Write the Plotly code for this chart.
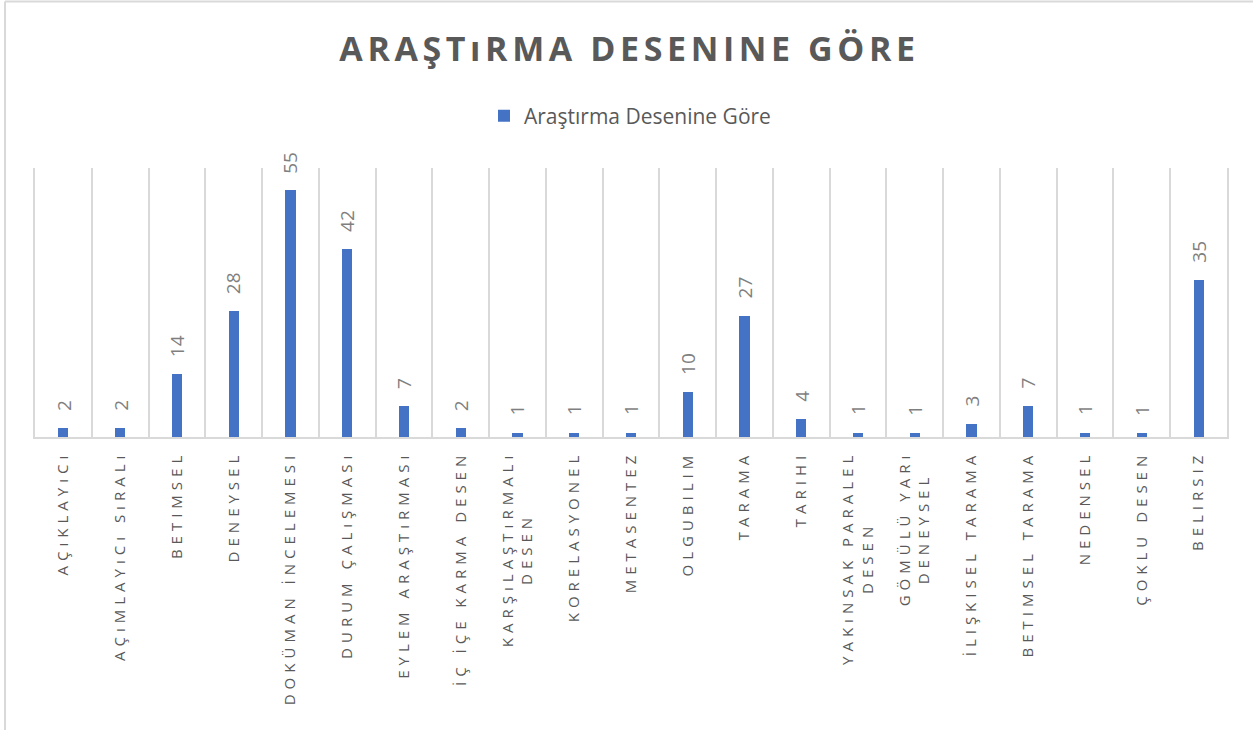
import plotly.graph_objects as go

# Araştırma desenine göre çalışma sayıları
categories = [
    "AÇıKLAYıCı",
    "AÇıMLAYıCı SıRALı",
    "BETIMSEL",
    "DENEYSEL",
    "DOKÜMAN İNCELEMESI",
    "DURUM ÇALıŞMASı",
    "EYLEM ARAŞTıRMASı",
    "İÇ İÇE KARMA DESEN",
    "KARŞıLAŞTıRMALı<br>DESEN",
    "KORELASYONEL",
    "METASENTEZ",
    "OLGUBILIM",
    "TARAMA",
    "TARIHI",
    "YAKıNSAK PARALEL<br>DESEN",
    "GÖMÜLÜ YARı<br>DENEYSEL",
    "İLIŞKISEL TARAMA",
    "BETIMSEL TARAMA",
    "NEDENSEL",
    "ÇOKLU DESEN",
    "BELIRSIZ",
]
counts = [2, 2, 14, 28, 55, 42, 7, 2, 1, 1, 1, 10, 27, 4, 1, 1, 3, 7, 1, 1, 35]

series_name = "Araştırma Desenine Göre"
chart_title = "ARAŞTıRMA DESENINE GÖRE"

BAR = "#4472C4"
GRID = "#D9D9D9"
TEXT = "#595959"
LABEL = "#7F7F7F"
FONT = "Open Sans"

W, H = 1253, 730
ML, MR, MT, MB = 35, 26, 168, 293
PW, PH = W - ML - MR, H - MT - MB

fig = go.Figure(
    go.Bar(
        x=categories,
        y=counts,
        name=series_name,
        marker=dict(color=BAR, line=dict(width=0)),
        width=0.18,
        showlegend=True,
    )
)

# rotated value labels above each bar
for c, v in zip(categories, counts):
    fig.add_annotation(
        x=c, y=v, xref="x", yref="y",
        text=str(v), textangle=-90,
        showarrow=False, yanchor="bottom", xanchor="center",
        yshift=15,
        font=dict(family=FONT, size=19, color=LABEL),
    )

# chart-area frame (left and top edges)
def px_x(p):
    return (p - ML) / PW

def px_y(p):
    return (H - MB - p) / PH

fig.add_shape(type="line", xref="paper", yref="paper",
              x0=px_x(5), x1=px_x(5), y0=px_y(1.5), y1=px_y(740),
              line=dict(color=GRID, width=2))
fig.add_shape(type="line", xref="paper", yref="paper",
              x0=px_x(5), x1=px_x(1270), y0=px_y(1.5), y1=px_y(1.5),
              line=dict(color=GRID, width=2))

fig.update_layout(
    width=W, height=H,
    margin=dict(l=ML, r=MR, t=MT, b=MB, pad=0),
    paper_bgcolor="white", plot_bgcolor="white",
    font=dict(family=FONT, color=TEXT),
    title=dict(
        text=chart_title,
        x=629.5 / W, xref="container", xanchor="center",
        y=1 - 49 / H, yref="container", yanchor="middle",
        font=dict(family=FONT, size=34, color=TEXT, weight="bold"),
    ),
    legend=dict(
        orientation="h",
        x=px_x(484), xanchor="left",
        y=px_y(116), yanchor="middle",
        font=dict(family=FONT, size=21, color=TEXT),
        bgcolor="rgba(0,0,0,0)", borderwidth=0,
    ),
    showlegend=True,
    bargap=0,
    xaxis=dict(
        type="category",
        tickson="boundaries",
        showgrid=True, gridcolor=GRID, gridwidth=1.5,
        showline=True, linecolor=GRID, linewidth=1.5,
        ticks="", tickangle=-90,
        tickfont=dict(family=FONT, size=15, color=TEXT),
        ticklabelstandoff=6,
        range=[-0.5, len(categories) - 0.5],
        fixedrange=True,
    ),
    # value axis is hidden; its mirrored line gives the outer category borders
    yaxis=dict(
        range=[0, 60], showticklabels=False, ticks="",
        showgrid=False, zeroline=False,
        showline=True, mirror=True, linecolor=GRID, linewidth=1.5,
        fixedrange=True,
    ),
)

# letter-spaced title and category labels; wrapped category lines centred
post = """
var gd = document.getElementById('{plot_id}');
function spread(){
  gd.querySelectorAll('.gtitle').forEach(function(e){ e.style.letterSpacing = '4.6px'; });
  gd.querySelectorAll('.xtick text').forEach(function(e){
    e.style.letterSpacing = '5px';
    var lines = e.querySelectorAll('tspan.line');
    if (lines.length < 2 || e.getAttribute('data-centred')) return;
    var lens = [], longest = 0;
    lines.forEach(function(t){ var l = t.getComputedTextLength(); lens.push(l); if (l > longest) longest = l; });
    lines.forEach(function(t, i){
      var x0 = parseFloat(t.getAttribute('x'));
      t.setAttribute('x', x0 - (longest - lens[i]) / 2);
    });
    e.setAttribute('data-centred', '1');
  });
}
spread();
gd.on('plotly_afterplot', spread);
"""

fig.write_html("out.html", post_script=post, config={"displayModeBar": False})
